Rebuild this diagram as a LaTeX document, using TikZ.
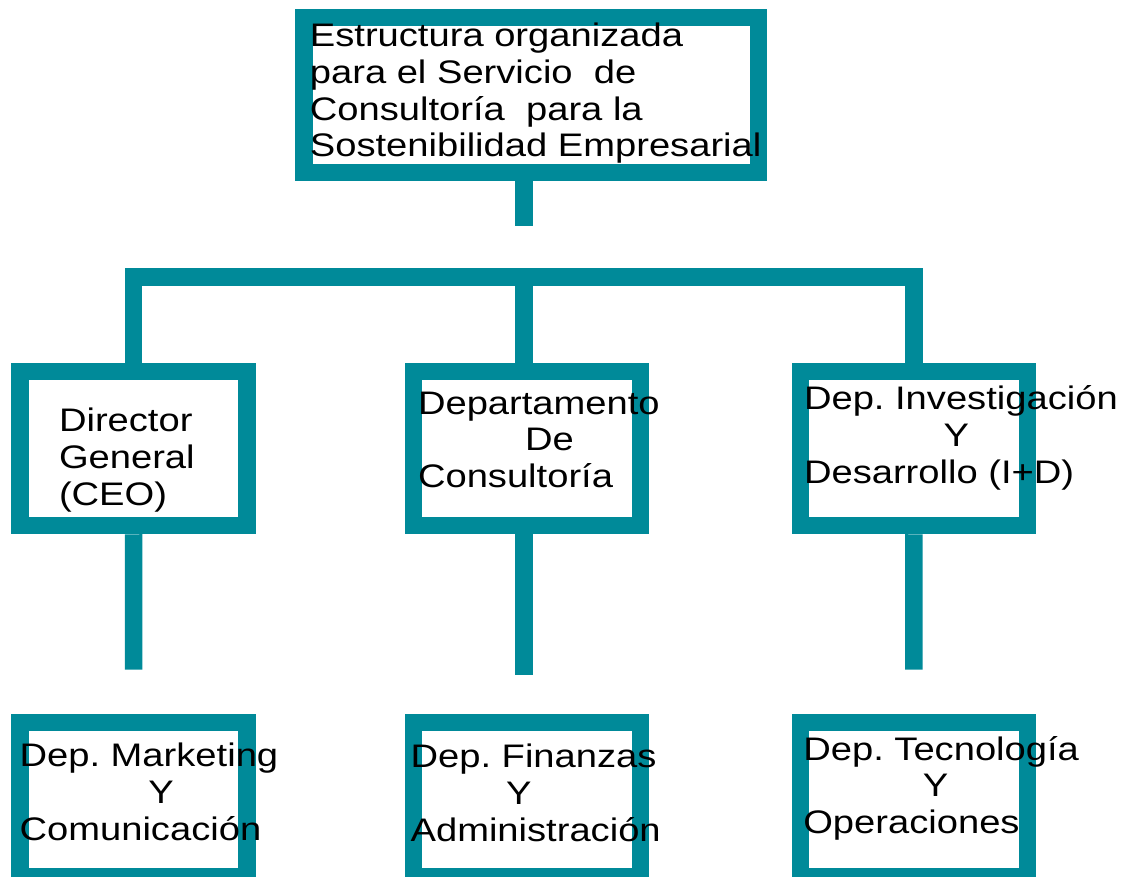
\documentclass[tikz,border=0pt]{standalone}
\usepackage{fontspec}
\setmainfont{Liberation Sans}[FakeStretch=1.17]
\frenchspacing
\definecolor{orgteal}{RGB}{0,138,153}
\tikzset{
  box/.style={draw=orgteal, line width=17.5pt, minimum width=227pt, minimum height=154pt, inner sep=0pt},
  link/.style={draw=orgteal, line width=17.5pt},
  txt/.style={anchor=base west, align=left, inner sep=0pt, font=\fontsize{32.6}{36.7}\selectfont}
}

\begin{document}
\begin{tikzpicture}[x=1pt, y=1pt]
    \useasboundingbox (0,0) rectangle (1130,-877);
    \coordinate (s0) at (524,-225.7);
    \coordinate (bar) at (524,-277);
    \coordinate (c1) at (133.7,-669.7);
    \coordinate (c2) at (524,-675);
    \coordinate (c3) at (913.8,-669.7);

\node[box, minimum width=454.5pt, minimum height=155pt] (top) at (531.25,-95) {};
\node[box] (ceo) at (133.65,-448.5) {};
\node[box] (dpto) at (527,-448.5) {};
\node[box] (id) at (913.85,-448.5) {};
\node[box] (mkt) at (133.65,-799.25) {};
\node[box] (fin) at (527,-799.25) {};
\node[box] (tec) at (913.85,-799.25) {};

\draw[link] (s0 |- top.south) -- (s0);
\draw[link] (ceo.north) |- (bar) -| (id.north);
\draw[link] (bar) -- (bar |- dpto.north);
\draw[link] (ceo.south) -- (c1);
\draw[link] (c2 |- dpto.south) -- (c2);
\draw[link] (id.south) -- (c3);

\node[txt] (top-txt) at (309.7,-156.8) {Estructura organizada\\para el Servicio \ de\\Consultoría \ para la\\Sostenibilidad Empresarial};
\node[txt] (ceo-txt) at (58.8,-505.1) {Director\\General\\(CEO)};
\node[txt] (dpto-txt) at (417.8,-487.5) {Departamento\\\hspace*{107pt}De\\Consultoría};
\node[txt] (id-txt) at (803.8,-483) {Dep. Investigación\\\hspace*{139.5pt}Y\\Desarrollo (I+D)};
\node[txt] (mkt-txt) at (19.4,-840) {Dep. Marketing\\\hspace*{128.9pt}Y\\Comunicación};
\node[txt] (fin-txt) at (410.4,-841.2) {Dep. Finanzas\\\hspace*{95.6pt}Y\\Administración};
\node[txt] (tec-txt) at (803.1,-833.5) {Dep. Tecnología\\\hspace*{119.6pt}Y\\Operaciones};
  \end{tikzpicture}
\end{document}
